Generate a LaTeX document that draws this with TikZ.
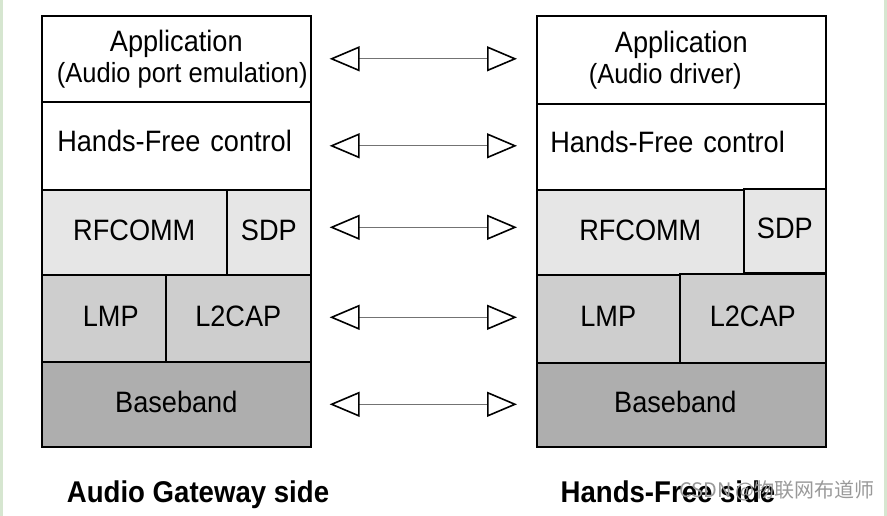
\documentclass[tikz,border=0pt]{standalone}
\usepackage{fontspec}
\setmainfont[FakeStretch=0.92]{Liberation Sans}
\newfontfamily\cjkfont{Noto Sans CJK SC}
\usetikzlibrary{arrows.meta}
\definecolor{rimgreen}{HTML}{D6E6D0}
\definecolor{layerlight}{HTML}{E6E6E6}
\definecolor{layermid}{HTML}{CECECE}
\definecolor{layerdark}{HTML}{AEAEAE}
\newcommand{\subline}[1]{{\fontsize{27.7}{31}\selectfont #1}}

\begin{document}
\begin{tikzpicture}[x=1pt,y=-1pt,
    layer/.style={draw,line width=1.6pt,anchor=north west,inner sep=0pt,align=center,
      font=\fontsize{29.5}{31}\selectfont},
    cell/.style={layer,text height=21pt,text depth=5pt},
    peer/.style={draw=black!55,line width=1.1pt,
      <->,>={Triangle[open,length=30pt,width=25pt,line width=1.6pt,color=black]}},
    side/.style={anchor=base,font=\bfseries\fontsize{30}{33}\selectfont}]
  \useasboundingbox (0,0) rectangle (887,516);
  \fill[rimgreen] (0,0) rectangle (3,516);
  \fill[rimgreen] (884,0) rectangle (887,516);

  \node[layer,minimum width=269pt,minimum height=86pt] (agApp) at (41,15) {Application\\\subline{\hspace*{12pt}(Audio port emulation)}};
  \node[cell,text depth=10pt,minimum width=269pt,minimum height=88pt,text width=238pt,align=left] (agHfc) at (41,101) {Hands-Free control};
  \node[cell,fill=layerlight,minimum width=185pt,minimum height=85pt] (agRfcomm) at (41,189) {RFCOMM};
  \node[cell,fill=layerlight,minimum width=84pt,minimum height=85pt] (agSdp) at (226,189) {SDP};
  \node[cell,fill=layermid,minimum width=124pt,minimum height=87pt] (agLmp) at (41,274) {\hspace*{14pt}LMP};
  \node[cell,fill=layermid,minimum width=145pt,minimum height=87pt] (agL2cap) at (165,274) {L2CAP};
  \node[cell,fill=layerdark,minimum width=269pt,minimum height=85pt] (agBase) at (41,361) {Baseband};

  \node[layer,minimum width=289pt,minimum height=88pt] (hfApp) at (536,15) {Application\\\subline{(Audio driver)\hspace*{32pt}}};
  \node[cell,text depth=10pt,minimum width=289pt,minimum height=86pt,text width=262pt,align=left] (hfHfc) at (536,103) {Hands-Free control};
  \node[cell,fill=layerlight,minimum width=207pt,minimum height=85pt] (hfRfcomm) at (536,189) {RFCOMM};
  \node[cell,fill=layerlight,minimum width=82pt,minimum height=84pt] (hfSdp) at (743,188) {SDP};
  \node[cell,fill=layermid,minimum width=143pt,minimum height=88pt] (hfLmp) at (536,274) {LMP};
  \node[cell,fill=layermid,minimum width=146pt,minimum height=89pt] (hfL2cap) at (679,273) {L2CAP};
  \node[cell,fill=layerdark,minimum width=289pt,minimum height=84pt] (hfBase) at (536,362) {Baseband\hspace*{12pt}};

  \foreach \a/\b/\s in {agApp/hfApp/0,agHfc/hfHfc/0,agSdp/hfRfcomm/5,agL2cap/hfLmp/1,agBase/hfBase/0}
    \draw[peer] ([xshift=18pt,yshift=\s pt]\a.east) -- ([xshift=-19pt,yshift=\s pt]\a.east -| \b.west);

  \node[side] (agSide) at (198,502) {Audio Gateway side};
  \node[side] (hfSide) at (668,502) {Hands-Free side};
  \node[text=black!40,font=\cjkfont\fontsize{20}{22}\selectfont] (csdnMark) at (777,491) {CSDN @物联网布道师};
\end{tikzpicture}
\end{document}
